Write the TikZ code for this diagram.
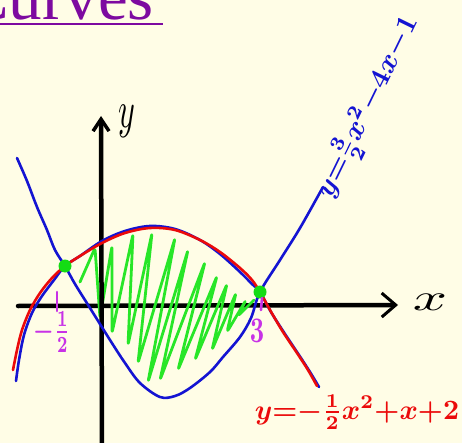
\documentclass[tikz,border=0pt]{standalone}
\usepackage{fontspec}
\newfontfamily\titlefont{Liberation Serif}
\usetikzlibrary{arrows.meta,calc}
\definecolor{bg}{RGB}{255,253,230}
\definecolor{curveblue}{RGB}{20,20,210}
\definecolor{curvered}{RGB}{235,10,10}
\definecolor{hatchgreen}{RGB}{40,230,40}
\definecolor{dotgreen}{RGB}{20,220,20}
\definecolor{labelpurple}{RGB}{200,50,230}
\definecolor{titlepurple}{RGB}{125,10,160}
\begin{document}
\begin{tikzpicture}[x=1pt,y=-1pt,line cap=round,line join=round,
  axisline/.style={line width=4.5pt,black},
  bluecurve/.style={line width=2.6pt,curveblue},
  redcurve/.style={line width=2.6pt,curvered},
  hatch/.style={line width=2.8pt,hatchgreen,rounded corners=3pt},
  greendot/.style={circle,fill=dotgreen,inner sep=0pt,minimum size=13pt},
  purplelabel/.style={text=labelpurple,inner sep=0pt,font=\boldmath},
  tick/.style={line width=2.6pt,labelpurple}]
\fill[bg] (0,0) rectangle (462,443);
\useasboundingbox (0,0) rectangle (462,443);
\clip (0,0) rectangle (462,443);

% title
\node[anchor=base west,inner sep=0pt,text=titlepurple,
  font=\titlefont\fontsize{67}{70}\selectfont] (title) at (-36,20) {Curves};
\draw[titlepurple,line width=2.5pt,line cap=butt]
  ($(title.base west)+(0,4)$) coordinate (ul1) -- ($(title.base east)+(9,4)$) coordinate (ul2);

% axes
\coordinate (xl) at (18,306);
\coordinate (xr) at (398,305);
\coordinate (yb) at (102,450);
\coordinate (yt) at (101,116);
\draw[axisline,-{Straight Barb[length=14pt,width=24pt,line width=3pt]}] (xl) -- (xr);

% green hatching
\draw[hatch] (80,282) -- (95,248) -- (100,318) -- (112,246) -- (112,333) -- (133,234)
  -- (128,345) -- (152,233) -- (138,363) -- (175,238) -- (148,382) -- (188,250)
  -- (160,380) -- (205,262) -- (178,370) -- (217,276) -- (195,360) -- (227,284)
  -- (212,350) -- (236,293) -- (227,332) -- (246,300) -- (238,316) -- (254,300);

\draw[axisline,-{Straight Barb[length=12pt,width=16pt,line width=3.5pt]}] (yb) -- (yt);

% blue U-shaped curve
\coordinate (P) at (65,266);
\coordinate (Q) at (260,292);
\coordinate (bend) at (323,187);
\draw[bluecurve] plot[smooth,tension=0.55] coordinates {
  (17,158) (27,181) (37,207) (47,230) (55,250) (P) (75,284) (90,308) (110,340)
  (125,363) (140,383) (160,397) (175,396) (190,388) (210,372) (223,357)
  (240,337) (251,318) (Q) (280,260) (300,228) (bend)};

% blue trace under the red curve
\draw[bluecurve] plot[smooth,tension=0.55] coordinates {
  (16,381) (19,360) (24,335) (32,313) (42,296) (54,280) (P) (80,256) (102,241)
  (125,231) (150,226) (175,229) (200,240) (220,254) (240,272) (252,284) (Q)
  (271,312) (285,334) (299,355) (310,372) (319,387)};

% red parabola
\coordinate (redend) at (317,386);
\draw[redcurve] plot[smooth,tension=0.55] coordinates {
  (13,370) (17,350) (22,330) (30,310) (40,293) (52,278) (P) (80,256) (102,243)
  (125,233) (150,228) (175,230) (200,240) (220,252) (240,268) (252,280) (Q)
  (270,310) (283,332) (297,353) (308,370) (redend)};

% intersection dots
\node[greendot] (dotP) at (P) {};
\node[greendot] (dotQ) at (Q) {};

% axis labels
\node[xscale=6,yscale=3.8,inner sep=0pt] (xlabel) at (430,302) {$x$};
\node[xscale=3.2,yscale=5.2,inner sep=0pt] (ylabel) at (127,121) {$y$};

% intersection labels
\draw[tick] (57,292) -- (57,311);
\node[purplelabel,xscale=2.3,yscale=3.3] (lhalf) at (52,332) {${-}\frac{1}{2}$};
\draw[tick] (262,298) -- (261,310);
\node[purplelabel,xscale=2.5,yscale=3.6] (lthree) at (257,331) {$3$};

% curve labels
\node[text=curveblue,scale=2.85,rotate=64,inner sep=0pt,font=\boldmath] (bluelabel) at (368,107)
  {$y{=}\frac{3}{2}x^2{-}4x{-}1$};
\node[text=curvered,scale=2.8,inner sep=0pt,font=\boldmath] (redlabel) at (357,412)
  {$y{=}{-}\frac{1}{2}x^2{+}x{+}2$};
\end{tikzpicture}
\end{document}
